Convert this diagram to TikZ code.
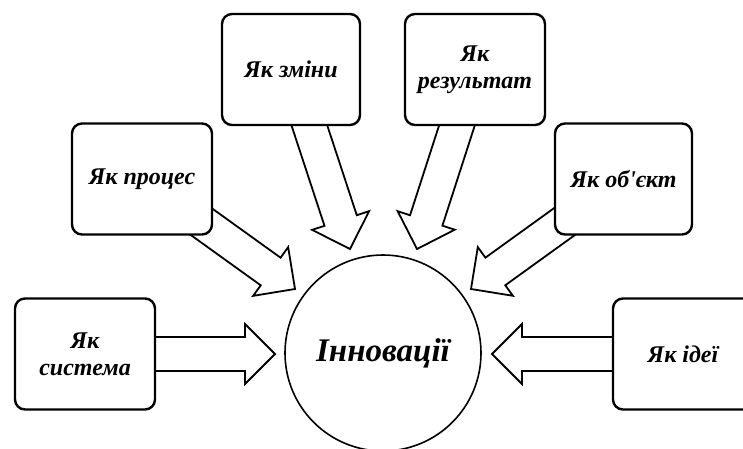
\documentclass[tikz,border=0pt]{standalone}
\usepackage{fontspec}
\setmainfont{Liberation Serif}[Ligatures=TeXOff]
\usetikzlibrary{calc}
\tikzset{
  box/.style={draw, line width=2.4pt, rounded corners=10pt, fill=white,
    minimum width=138pt, minimum height=111pt, align=center, inner sep=2pt,
    font=\fontsize{24}{27}\selectfont\bfseries\itshape},
  blk/.style={draw, line width=1.8pt, fill=white, line join=miter},
  hub/.style={draw, circle, line width=1.6pt, fill=white, minimum size=196pt,
    font=\fontsize{33}{38}\selectfont\bfseries\itshape}
}
\newcommand{\blockarr}[2]{%
  \coordinate (#2-b) at ($(#2)!30pt!(#1)$);
  \draw[blk] ($(#1)!17pt!90:(#2)$) -- ($(#2-b)!17pt!90:(#2)$)
    -- ($(#2-b)!30pt!90:(#2)$) -- (#2) -- ($(#2-b)!30pt!-90:(#2)$)
    -- ($(#2-b)!17pt!-90:(#2)$) -- ($(#1)!17pt!-90:(#2)$) -- cycle;}
\begin{document}
\begin{tikzpicture}[x=1pt,y=-1pt]
\useasboundingbox (0,0) rectangle (743,448);
\clip (0,0) rectangle (743,448);
% centres of the boxes
\coordinate (csys) at (85,354);
\coordinate (cproc) at (142,179);
\coordinate (czm) at (291,69.5);
\coordinate (cres) at (475,69.5);
\coordinate (cobj) at (623.5,179);
\coordinate (cid) at (683,354);
% arrow tips
\coordinate (tsys) at (275,354);
\coordinate (tproc) at (295,289);
\coordinate (tzm) at (350,249);
\coordinate (tres) at (417,249);
\coordinate (tobj) at (471,289);
\coordinate (tid) at (492,354);
% arrows
\blockarr{csys}{tsys}
\blockarr{cproc}{tproc}
\blockarr{czm}{tzm}
\blockarr{cres}{tres}
\blockarr{cobj}{tobj}
\blockarr{cid}{tid}
% boxes
\node[box, minimum width=140pt] (sys) at (csys) {Як\\система};
\node[box, minimum width=140pt] (proc) at (cproc) {Як процес};
\node[box] (zm) at (czm) {Як зміни};
\node[box, minimum width=140pt] (res) at (cres) {Як\\результат};
\node[box, minimum width=137pt] (obj) at (cobj) {Як об'єкт};
\node[box, minimum width=140pt] (id) at (cid) {Як ідеї};
% hub
\node[hub] (inn) at (383,353) {Інновації};
\end{tikzpicture}
\end{document}
